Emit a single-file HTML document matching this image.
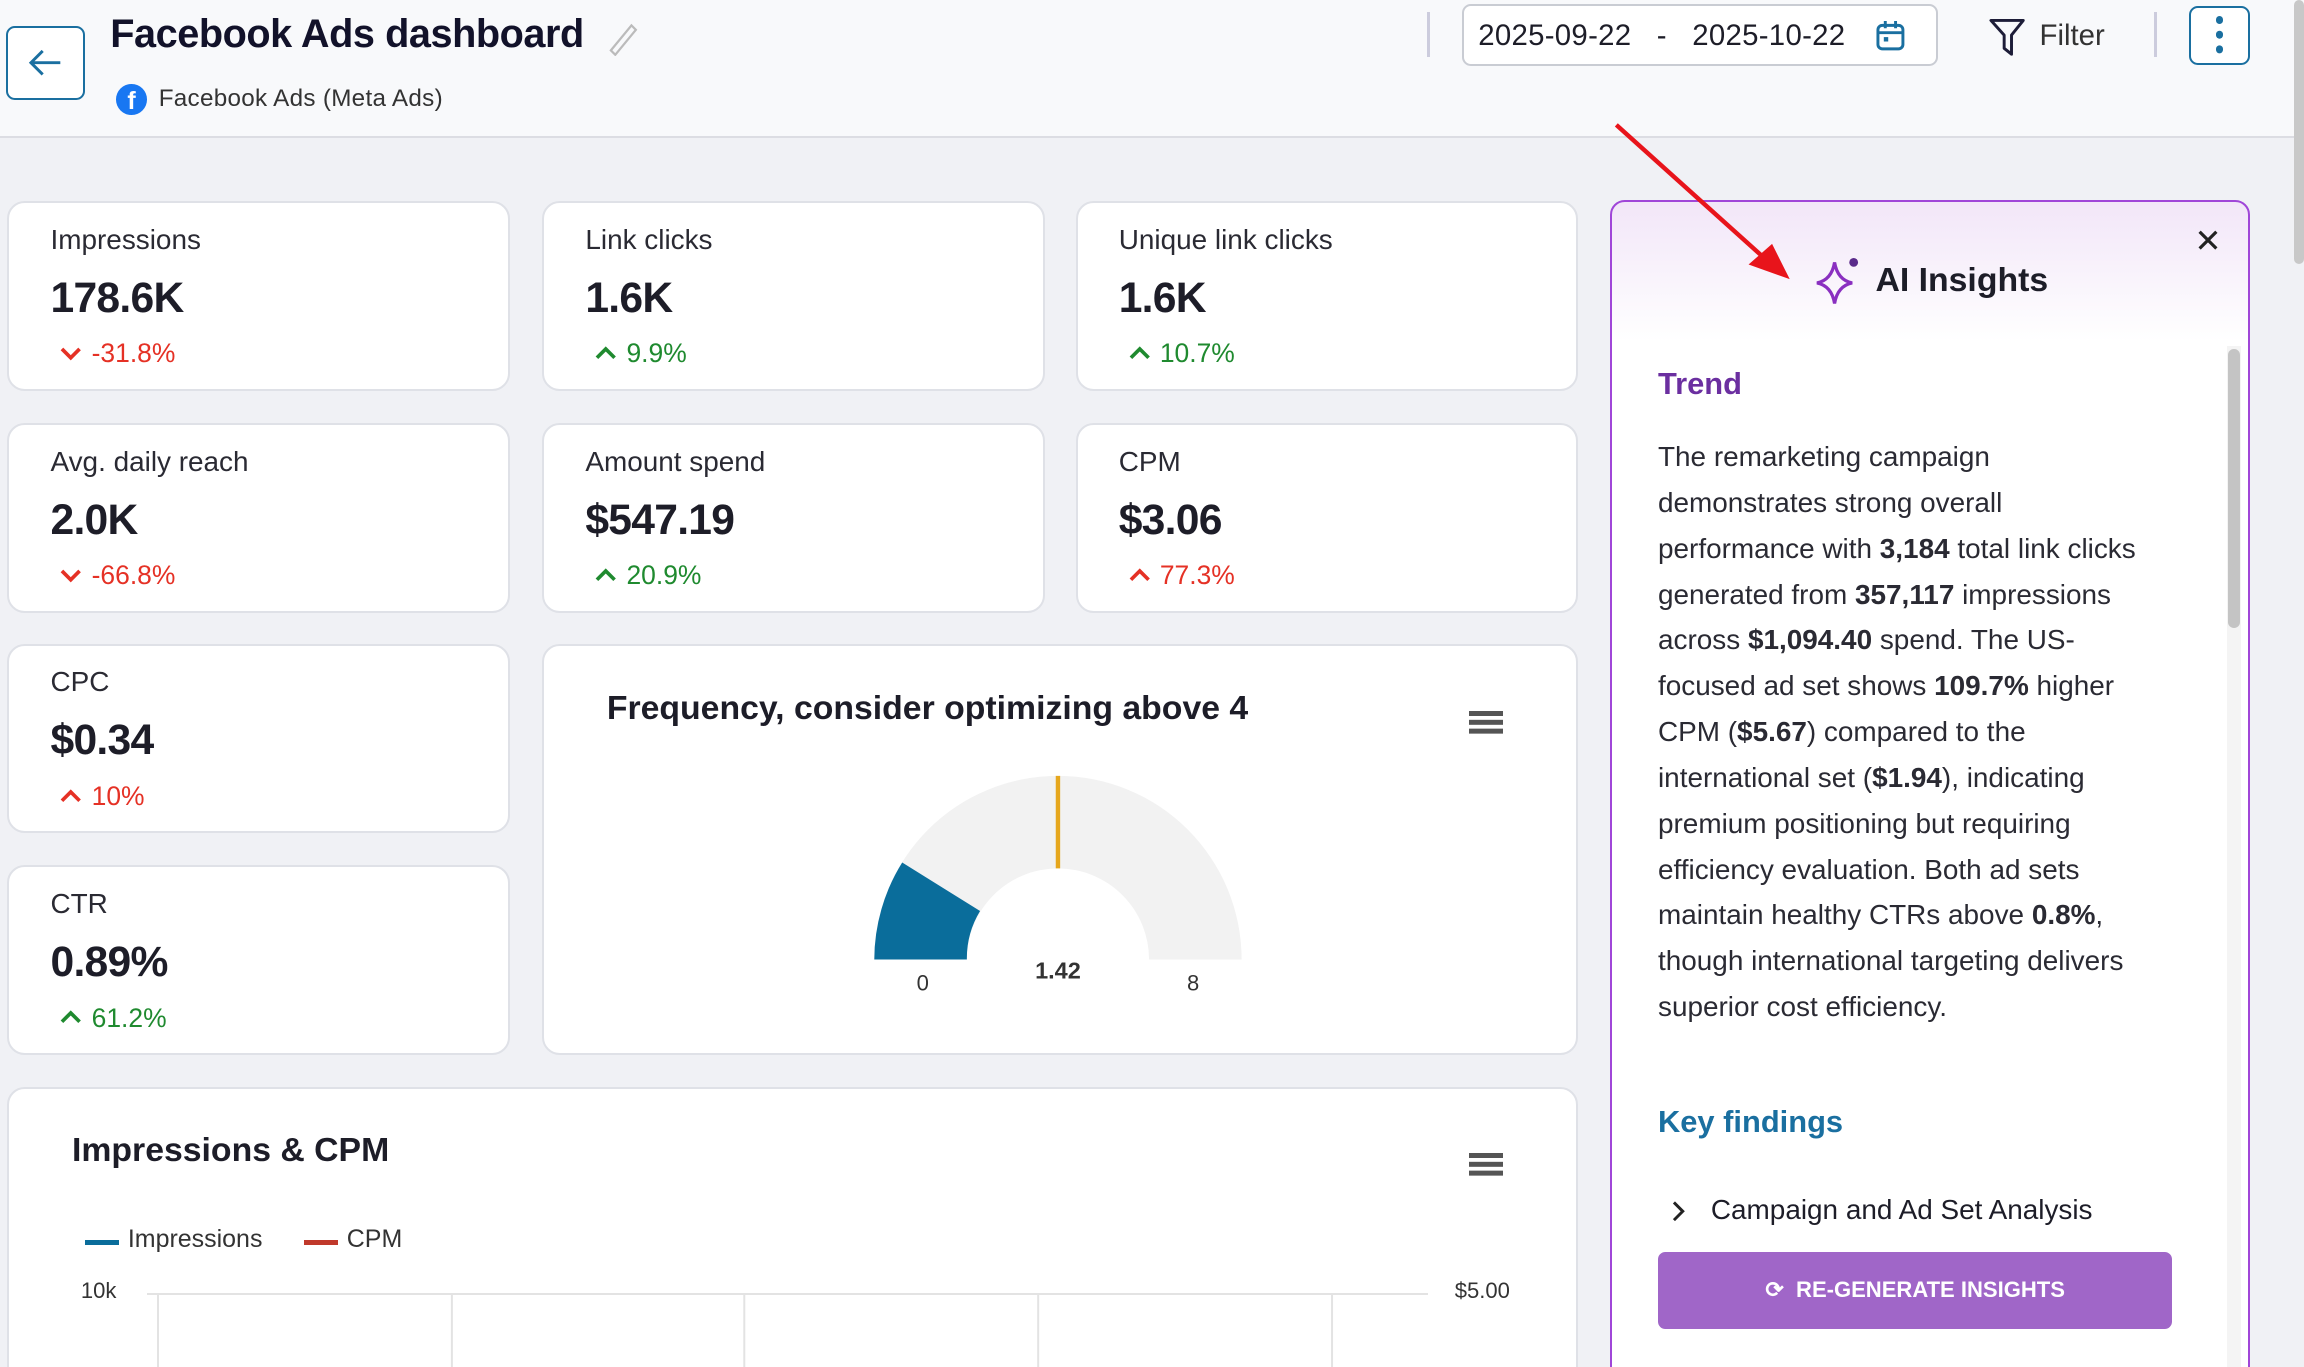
<!DOCTYPE html>
<html><head><meta charset="utf-8"><style>
*{box-sizing:border-box;margin:0;padding:0}
html,body{width:2304px;height:1367px;overflow:hidden;background:#f0f1f5}
#r{width:1568px;height:930px;zoom:1.469387;position:relative;font-family:"Liberation Sans",sans-serif;color:#1d1d28;overflow:hidden;background:#f0f1f5}
.a{position:absolute}
.card{position:absolute;background:#fff;border:1.5px solid #dfe1e7;border-radius:12px}
.lbl{position:absolute;left:28px;top:14px;font-size:19px;color:#2a2a33}
.val{position:absolute;left:28px;top:48px;font-size:29px;font-weight:bold;letter-spacing:-0.5px}
.d{position:absolute;left:34px;top:92px;font-size:18px}
.d svg{vertical-align:1px;margin-right:6px}
.up{color:#1f8a2f}.dn{color:#e53125}
.ai p{font-size:19px;line-height:31.2px;color:#2a2a33;white-space:nowrap}
</style></head><body><div id="r">
<div class="a" style="left:0;top:0;width:1568px;height:94px;background:#f8f9fb;border-bottom:1.5px solid #dcdde3"></div>
<div class="a" style="left:4px;top:18px;width:54px;height:50px;border:1.5px solid #1a6fa0;border-radius:6px;background:#fff"></div>
<svg class="a" style="left:19px;top:33px" width="24" height="20"><path d="M22 10H3M10 2L2 10L10 18" stroke="#1a6fa0" stroke-width="2" fill="none"/></svg>
<div class="a" style="left:75px;top:8px;font-size:27px;font-weight:bold;color:#12122a;letter-spacing:-0.3px">Facebook Ads dashboard</div>
<svg class="a" style="left:412px;top:14px" width="22" height="24"><path d="M4 20L18 3L21 6L7 23Z" stroke="#bbb" stroke-width="1.5" fill="none"/></svg>
<div class="a" style="left:79px;top:57px;width:21px;height:21px;border-radius:50%;background:#1877f2;color:#fff;font-weight:bold;font-size:17px;text-align:center;line-height:24px;overflow:hidden">f</div>
<div class="a" style="left:108px;top:58px;font-size:16.5px;color:#333;letter-spacing:0.2px">Facebook Ads (Meta Ads)</div>
<div class="a" style="left:971px;top:8px;width:2px;height:31px;background:#ccd"></div>
<div class="a" style="left:995px;top:3px;width:324px;height:42px;border:1.5px solid #c9ccd3;border-radius:6px;background:#fff"></div>
<div class="a" style="left:1006px;top:13px;font-size:20px;color:#1d1d28;white-space:pre;letter-spacing:0.2px">2025-09-22   -   2025-10-22</div>
<svg class="a" style="left:1276px;top:12px" width="22" height="24"><rect x="2" y="5" width="17" height="16" rx="3" stroke="#1a6fa0" stroke-width="2" fill="none"/><path d="M2 10H19M7 2V7M14 2V7" stroke="#1a6fa0" stroke-width="2"/><rect x="6" y="13" width="3" height="3" fill="#1a6fa0"/></svg>
<svg class="a" style="left:1353px;top:11px" width="26" height="28"><path d="M2 3H24L16 13V26L11 22V13Z" stroke="#1d1d38" stroke-width="2" fill="none" stroke-linejoin="round"/></svg>
<div class="a" style="left:1388px;top:13px;font-size:20px;color:#333">Filter</div>
<div class="a" style="left:1466px;top:8px;width:2px;height:31px;background:#ccd"></div>
<div class="a" style="left:1490px;top:4px;width:41px;height:40px;border:1.5px solid #1a6fa0;border-radius:6px;background:#fff"></div>
<div class="a" style="left:1508px;top:11px;width:5px;height:5px;border-radius:50%;background:#1a6fa0;box-shadow:0 10px 0 #1a6fa0,0 20px 0 #1a6fa0"></div>
<div class="a" style="left:1561px;top:0;width:7px;height:180px;background:#c8c8c8;border-radius:4px"></div>

<div class="card" style="left:5px;top:137px;width:342px;height:129px"><div class="lbl">Impressions</div><div class="val">178.6K</div><div class="d dn"><svg width="16" height="10"><path d="M2 2L8 8L14 2" stroke="#e53125" stroke-width="2.5" fill="none"/></svg>-31.8%</div></div>
<div class="card" style="left:369px;top:137px;width:342px;height:129px"><div class="lbl">Link clicks</div><div class="val">1.6K</div><div class="d up"><svg width="16" height="10"><path d="M2 8L8 2L14 8" stroke="#1f8a2f" stroke-width="2.5" fill="none"/></svg>9.9%</div></div>
<div class="card" style="left:732px;top:137px;width:342px;height:129px"><div class="lbl">Unique link clicks</div><div class="val">1.6K</div><div class="d up"><svg width="16" height="10"><path d="M2 8L8 2L14 8" stroke="#1f8a2f" stroke-width="2.5" fill="none"/></svg>10.7%</div></div>
<div class="card" style="left:5px;top:288px;width:342px;height:129px"><div class="lbl">Avg. daily reach</div><div class="val">2.0K</div><div class="d dn"><svg width="16" height="10"><path d="M2 2L8 8L14 2" stroke="#e53125" stroke-width="2.5" fill="none"/></svg>-66.8%</div></div>
<div class="card" style="left:369px;top:288px;width:342px;height:129px"><div class="lbl">Amount spend</div><div class="val">$547.19</div><div class="d up"><svg width="16" height="10"><path d="M2 8L8 2L14 8" stroke="#1f8a2f" stroke-width="2.5" fill="none"/></svg>20.9%</div></div>
<div class="card" style="left:732px;top:288px;width:342px;height:129px"><div class="lbl">CPM</div><div class="val">$3.06</div><div class="d dn"><svg width="16" height="10"><path d="M2 8L8 2L14 8" stroke="#e53125" stroke-width="2.5" fill="none"/></svg>77.3%</div></div>
<div class="card" style="left:5px;top:438px;width:342px;height:129px"><div class="lbl">CPC</div><div class="val">$0.34</div><div class="d dn"><svg width="16" height="10"><path d="M2 8L8 2L14 8" stroke="#e53125" stroke-width="2.5" fill="none"/></svg>10%</div></div>
<div class="card" style="left:5px;top:589px;width:342px;height:129px"><div class="lbl">CTR</div><div class="val">0.89%</div><div class="d up"><svg width="16" height="10"><path d="M2 8L8 2L14 8" stroke="#1f8a2f" stroke-width="2.5" fill="none"/></svg>61.2%</div></div>

<div class="card" style="left:369px;top:438px;width:705px;height:280px"></div>
<div class="a" style="left:413px;top:469px;font-size:23px;font-weight:bold">Frequency, consider optimizing above 4</div>
<div class="a" style="left:1000px;top:484px;width:23px;height:3px;background:#555;box-shadow:0 6px 0 #555,0 12px 0 #555"></div>
<svg class="a" style="left:0;top:0" width="1568" height="930">
<path d="M595 653A125 125 0 0 1 845 653L782 653A62 62 0 0 0 658 653Z" fill="#f2f2f2"/>
<path d="M595 653A125 125 0 0 1 614 587L667 620A62 62 0 0 0 658 653Z" fill="#0a6d9b"/>
<line x1="720" y1="528" x2="720" y2="591" stroke="#e6a71d" stroke-width="3"/>
<text x="628" y="674" font-size="15" text-anchor="middle" fill="#333" font-family="Liberation Sans">0</text>
<text x="720" y="666" font-size="16" font-weight="bold" text-anchor="middle" fill="#333" font-family="Liberation Sans">1.42</text>
<text x="812" y="674" font-size="15" text-anchor="middle" fill="#333" font-family="Liberation Sans">8</text>
</svg>

<div class="card" style="left:5px;top:740px;width:1069px;height:220px"></div>
<div class="a" style="left:49px;top:770px;font-size:23px;font-weight:bold">Impressions &amp; CPM</div>
<div class="a" style="left:1000px;top:785px;width:23px;height:3px;background:#555;box-shadow:0 6px 0 #555,0 12px 0 #555"></div>
<div class="a" style="left:58px;top:844px;width:23px;height:3px;background:#0a6d9b"></div>
<div class="a" style="left:87px;top:834px;font-size:17px;color:#333">Impressions</div>
<div class="a" style="left:207px;top:844px;width:23px;height:3px;background:#c0392b"></div>
<div class="a" style="left:236px;top:834px;font-size:17px;color:#333">CPM</div>
<div class="a" style="left:55px;top:870px;font-size:15px;color:#333">10k</div>
<div class="a" style="left:990px;top:870px;font-size:15px;color:#333">$5.00</div>
<div class="a" style="left:100px;top:880px;width:872px;height:1px;background:#e3e3e3"></div>
<div class="a" style="left:107px;top:880px;width:1px;height:60px;background:#e3e3e3;box-shadow:200px 0 0 #e3e3e3,399px 0 0 #e3e3e3,599px 0 0 #e3e3e3,799px 0 0 #e3e3e3"></div>

<div class="a ai" style="left:1096px;top:136px;width:435px;height:820px;border:2px solid #a046d8;border-radius:10px;background:linear-gradient(#f2e6f8 0,#fff 95px,#fff 100%)">
<div class="a" style="left:396px;top:14px;font-size:22px;color:#222">✕</div>
<svg class="a" style="left:137px;top:36px" width="34" height="34"><path d="M14 5Q16 17 26 19Q16 21 14 33Q12 21 2 19Q12 17 14 5Z" stroke="#8a2fc0" stroke-width="2.2" fill="none"/><circle cx="27" cy="5" r="3" fill="#5a2a8a"/></svg>
<div class="a" style="left:179px;top:40px;font-size:23px;font-weight:bold;color:#1d1d28">AI Insights</div>
<div class="a" style="left:418px;top:98px;width:10px;height:700px;background:#f4f4f4"></div>
<div class="a" style="left:419px;top:100px;width:8px;height:190px;background:#c4c4c4;border-radius:4px"></div>
<div class="a" style="left:31px;top:112px;font-size:21px;font-weight:bold;color:#6b2fa0">Trend</div>
<p class="a" style="left:31px;top:158px">The remarketing campaign<br>demonstrates strong overall<br>performance with <b>3,184</b> total link clicks<br>generated from <b>357,117</b> impressions<br>across <b>$1,094.40</b> spend. The US-<br>focused ad set shows <b>109.7%</b> higher<br>CPM (<b>$5.67</b>) compared to the<br>international set (<b>$1.94</b>), indicating<br>premium positioning but requiring<br>efficiency evaluation. Both ad sets<br>maintain healthy CTRs above <b>0.8%</b>,<br>though international targeting delivers<br>superior cost efficiency.</p>
<div class="a" style="left:31px;top:614px;font-size:21px;font-weight:bold;color:#1a6fa0">Key findings</div>
<svg class="a" style="left:40px;top:680px" width="10" height="14"><path d="M2 1L8 7L2 13" stroke="#222" stroke-width="2" fill="none"/></svg>
<div class="a" style="left:67px;top:675px;font-size:19px;color:#1d1d28">Campaign and Ad Set Analysis</div>
<div class="a" style="left:31px;top:715px;width:350px;height:52px;background:#a066c8;border-radius:5px;color:#fff;font-size:15px;font-weight:bold;text-align:center;line-height:52px">⟳ &nbsp;RE-GENERATE INSIGHTS</div>
</div>
<svg class="a" style="left:0;top:0" width="1568" height="930"><line x1="1100" y1="85" x2="1200" y2="175" stroke="#e8141b" stroke-width="3"/><path d="M1218 190L1190 180L1206 166Z" fill="#e8141b"/></svg>
</div></body></html>
